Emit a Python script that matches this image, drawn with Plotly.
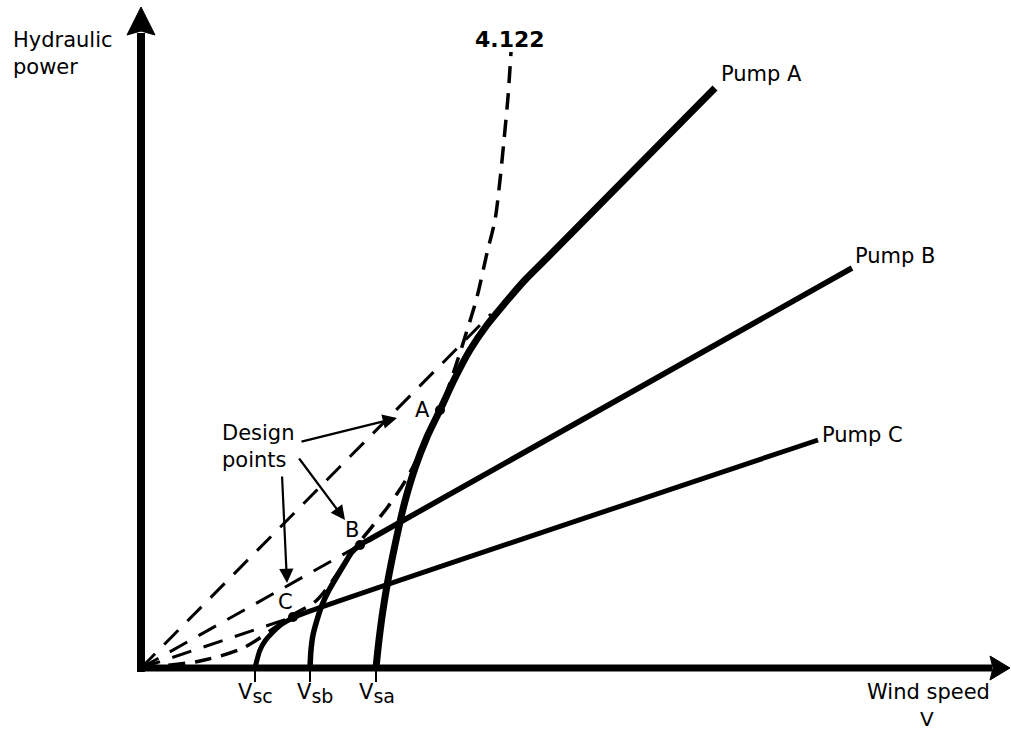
import plotly.graph_objects as go

# ---------------- data (wind speed V, hydraulic power P; arbitrary units) ----------------
rotor_V = [0, 5.9, 10.2, 15.2, 17.6, 21.7, 24.6, 26.6, 29.9, 31.4, 32.4, 33.6, 34.6, 35.4, 35.9, 36.3, 36.7, 37.0]
rotor_P = [0, 0.7, 2.0, 5.3, 6.8, 12.4, 16.0, 19.0, 25.8, 30.0, 33.1, 37.1, 41.5, 44.8, 48.8, 52.8, 57.1, 61.6]

pumpA_V = [23.5, 23.8, 24.2, 24.7, 25.4, 26.3, 27.4, 28.6, 29.9, 31.4, 32.9, 34.6, 36.4, 38.4, 40.6, 57.4]
pumpA_P = [0, 2.8, 5.8, 8.8, 12.3, 16.3, 20.0, 23.1, 25.8, 29.0, 31.8, 34.3, 36.5, 38.8, 41.0, 58.0]

pumpB_V = [16.9, 17.0, 17.2, 17.6, 18.1, 18.7, 19.5, 20.4, 21.1, 21.9, 23.1, 71.1]
pumpB_P = [0, 1.8, 3.3, 4.8, 6.3, 7.6, 9.0, 10.5, 11.6, 12.3, 13.0, 40.0]

pumpC_V = [11.4, 11.6, 11.9, 12.4, 13.1, 14.1, 15.2, 16.4, 67.7]
pumpC_P = [0, 0.8, 1.8, 2.7, 3.5, 4.4, 5.0, 5.5, 22.8]

# linear parts of the pump curves extrapolated back to the origin
extA_V, extA_P = [0, 35.0], [0, 35.4]
extB_V, extB_P = [0, 21.9], [0, 12.3]
extC_V, extC_P = [0, 15.2], [0, 5.1]

design_V = [29.9, 21.9, 15.2]
design_P = [25.8, 12.3, 5.1]
design_labels = ["A", "B", "C"]

start_V = [11.4, 16.9, 23.5]
start_subs = ["sc", "sb", "sa"]

pump_names = ["Pump A", "Pump B", "Pump C"]

# ---------------- figure ----------------
W, H = 1011, 732
X0PX, Y0PX, SCALE = 141, 668, 10.0  # origin position and px per unit
xr = [(0 - X0PX) / SCALE, (W - X0PX) / SCALE]
yr = [(Y0PX - H) / SCALE, (Y0PX - 0) / SCALE]

FONT = "DejaVu Sans"
BLACK = "black"

fig = go.Figure()

def line(x, y, width, dash=None, spline=True):
    fig.add_trace(go.Scatter(
        x=x, y=y, mode="lines", hoverinfo="skip", showlegend=False,
        line=dict(color=BLACK, width=width, dash=dash,
                  shape="spline" if spline else "linear", smoothing=0.8)))

# dashed extensions and rotor curve
line(extA_V, extA_P, 3, dash="20px,13px", spline=False)
line(extB_V, extB_P, 3, dash="20px,13px", spline=False)
line(extC_V, extC_P, 3, dash="20px,13px", spline=False)
line(rotor_V, rotor_P, 3.5, dash="17px,10px")

# pump curves
line(pumpA_V, pumpA_P, 7)
line(pumpB_V, pumpB_P, 5.5)
line(pumpC_V, pumpC_P, 5)

# design points
fig.add_trace(go.Scatter(x=design_V, y=design_P, mode="markers", hoverinfo="skip",
                         showlegend=False, marker=dict(color=BLACK, size=10)))

# start-speed ticks under the axis
tx, ty = [], []
for v in start_V:
    tx += [v, v, None]
    ty += [0, -1.4, None]
fig.add_trace(go.Scatter(x=tx, y=ty, mode="lines", hoverinfo="skip", showlegend=False,
                         line=dict(color=BLACK, width=2)))

# axes (drawn as shapes)
Y_TIP, X_TIP = 66.1, 86.9
shapes = [
    dict(type="line", xref="x", yref="y", x0=0, x1=0, y0=-0.4, y1=Y_TIP - 2.6,
         line=dict(color=BLACK, width=8)),
    dict(type="line", xref="x", yref="y", x0=-0.4, x1=X_TIP - 1.8, y0=0, y1=0,
         line=dict(color=BLACK, width=7)),
    dict(type="path", xref="x", yref="y",
         path=f"M 0 {Y_TIP} L 1.4 {Y_TIP-2.8} L 0 {Y_TIP-2.4} L -1.4 {Y_TIP-2.8} Z",
         fillcolor=BLACK, line=dict(color=BLACK, width=1)),
    dict(type="path", xref="x", yref="y",
         path=f"M {X_TIP} 0 L {X_TIP-2.0} 1.2 L {X_TIP-1.7} 0 L {X_TIP-2.0} -1.2 Z",
         fillcolor=BLACK, line=dict(color=BLACK, width=1)),
]

ann = []
def text(x, y, t, size=21, xanchor="center", yanchor="middle", align="center", weight="normal", **kw):
    ann.append(dict(x=x, y=y, xref="x", yref="y", text=t, showarrow=False,
                    xanchor=xanchor, yanchor=yanchor, align=align,
                    font=dict(family=FONT, size=size, color=BLACK, weight=weight), **kw))

text(-13.0, 64.2, "Hydraulic<br>power", xanchor="left", yanchor="top", align="left")
text(78.7, -2.4, "Wind speed")
text(78.6, -5.1, "V", size=20)
text(36.9, 62.9, "4.122", size=22, weight="bold")

# pump labels at line ends
text(pumpA_V[-1], pumpA_P[-1], pump_names[0], xanchor="left", xshift=4, yshift=14)
text(pumpB_V[-1], pumpB_P[-1], pump_names[1], xanchor="left", xshift=1, yshift=12)
text(pumpC_V[-1], pumpC_P[-1], pump_names[2], xanchor="left", xshift=2, yshift=5)

# design point letters
text(design_V[0], design_P[0], design_labels[0], xshift=-18, yshift=0)
text(design_V[1], design_P[1], design_labels[1], xshift=-8, yshift=15)
text(design_V[2], design_P[2], design_labels[2], xshift=-8, yshift=15)

# start speed labels
for v, sub, sh in zip(start_V, start_subs, [0, 5, 1]):
    text(v, -1.0, f"V<sub><span style='font-size:19px'>{sub}</span></sub>", yanchor="top", xshift=sh)

# "Design points" with arrows
text(7.9, 22.2, "Design<br>points", xanchor="left", align="left")
for (hx, hy, tx_, ty_) in [(25.6, 25.0, 15.9, 22.6), (20.4, 14.8, 15.7, 21.1), (14.6, 8.5, 14.1, 19.3)]:
    ann.append(dict(x=hx, y=hy, ax=tx_, ay=ty_, xref="x", yref="y", axref="x", ayref="y",
                    text="", showarrow=True, arrowhead=2, arrowsize=1.3, arrowwidth=2.2,
                    arrowcolor=BLACK))

fig.update_layout(
    width=W, height=H, autosize=False,
    margin=dict(l=0, r=0, t=0, b=0),
    paper_bgcolor="white", plot_bgcolor="white",
    xaxis=dict(range=xr, visible=False, fixedrange=True),
    yaxis=dict(range=yr, visible=False, fixedrange=True),
    shapes=shapes, annotations=ann, showlegend=False,
)

fig.write_html("out.html", config={"displayModeBar": False, "staticPlot": True},
               post_script="document.body.style.margin='0px';document.body.style.overflow='hidden';")
